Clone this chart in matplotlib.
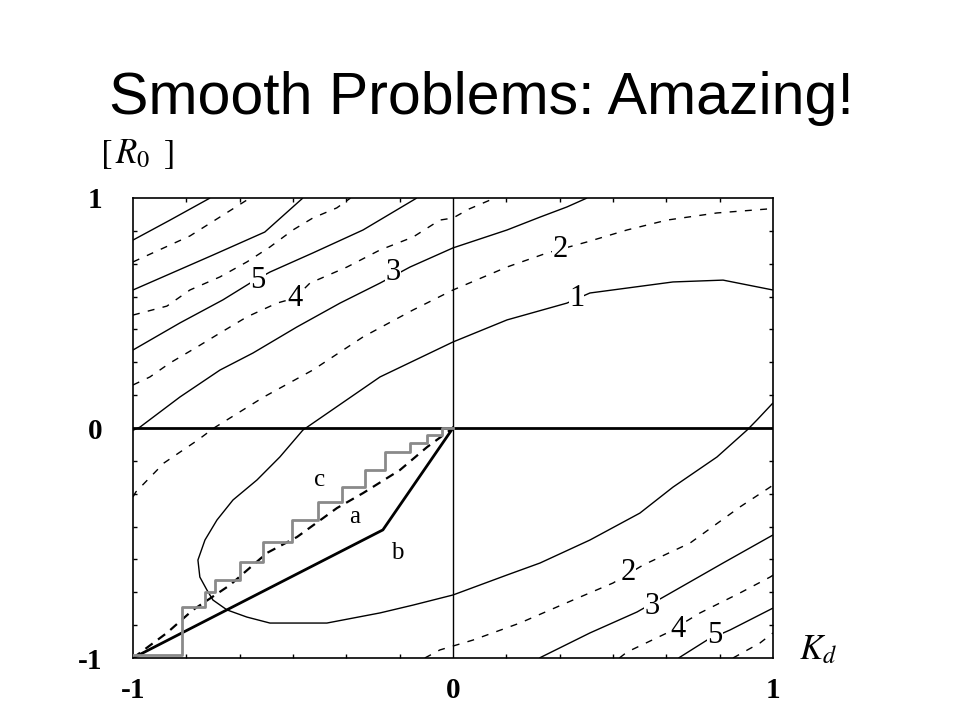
import numpy as np
import matplotlib
matplotlib.use("Agg")
import matplotlib.pyplot as plt
from matplotlib.ticker import MultipleLocator

# ---------------- data ----------------
title = "Smooth Problems: Amazing!"

# contour level lines (x = K_d, y = R_0)
lvl9_x = [-1.0, -0.884, -0.759]
lvl9_y = [0.817, 0.904, 1.0]

lvl8_x = [-1.0, -0.822, -0.634]
lvl8_y = [0.722, 0.835, 1.0]

lvl7_x = [-1.0, -0.75, -0.588, -0.469]
lvl7_y = [0.6, 0.752, 0.852, 1.0]

lvl6_x = [-1.0, -0.894, -0.822, -0.728, -0.644, -0.572, -0.5, -0.438, -0.363, -0.32]
lvl6_y = [0.491, 0.53, 0.6, 0.657, 0.722, 0.787, 0.861, 0.913, 0.957, 1.0]

lvl5_x = [-1.0, -0.853, -0.719, -0.634, -0.572, -0.438, -0.281, -0.113]
lvl5_y = [0.339, 0.457, 0.557, 0.63, 0.678, 0.761, 0.861, 1.0]

lvl4_x = [-1.0, -0.947, -0.884, -0.8, -0.728, -0.644, -0.55, -0.494, -0.447, -0.331,
          -0.228, -0.125, -0.041, 0.0, 0.05, 0.131]
lvl4_y = [0.187, 0.222, 0.283, 0.352, 0.413, 0.483, 0.543, 0.565, 0.63, 0.7,
          0.774, 0.83, 0.904, 0.913, 0.952, 1.0]

lvl3_x = [-1.0, -0.978, -0.853, -0.728, -0.625, -0.488, -0.353, -0.228, -0.134, 0.0,
          0.169, 0.272, 0.356, 0.419]
lvl3_y = [-0.01, 0.004, 0.135, 0.252, 0.326, 0.439, 0.543, 0.63, 0.7, 0.783,
          0.861, 0.917, 0.961, 1.0]

lvl2a_x = [-1.0, -0.991, -0.903, -0.797, -0.747, -0.591, -0.438, -0.281, -0.125, 0.0,
           0.022, 0.169, 0.294, 0.419, 0.544, 0.669, 0.825, 0.981, 1.0]
lvl2a_y = [-0.3, -0.278, -0.152, -0.052, 0.0, 0.135, 0.252, 0.396, 0.513, 0.6,
           0.613, 0.7, 0.761, 0.809, 0.861, 0.904, 0.935, 0.952, 0.952]

lvl2b_x = [-0.088, -0.041, 0.0625, 0.209, 0.375, 0.5, 0.594, 0.741, 0.897, 0.991, 1.0]
lvl2b_y = [-1.0, -0.965, -0.922, -0.848, -0.748, -0.674, -0.596, -0.5, -0.343, -0.257, -0.248]

lvl3b_x = [0.27, 0.428, 0.575, 0.669, 0.844, 1.0]
lvl3b_y = [-1.0, -0.891, -0.8, -0.726, -0.587, -0.465]

lvl4b_x = [0.52, 0.544, 0.669, 0.772, 0.897, 0.991, 1.0]
lvl4b_y = [-1.0, -0.974, -0.891, -0.804, -0.717, -0.648, -0.64]

lvl5b_x = [0.705, 0.794, 0.866, 1.0]
lvl5b_y = [-1.0, -0.922, -0.878, -0.783]

lvl6b_x = [0.875, 0.959, 1.0]
lvl6b_y = [-1.0, -0.935, -0.891]

lvl1_x = [1.0, 0.844, 0.6875, 0.428, 0.356, 0.169, 0.0, -0.228, -0.469, -0.541, -0.6125,
          -0.6875, -0.7375, -0.775, -0.797, -0.791, -0.769, -0.75, -0.706, -0.644, -0.572,
          -0.394, -0.228, -0.125, 0.0, 0.169, 0.272, 0.428, 0.584, 0.6875, 0.825, 0.919,
          0.95, 1.0]
lvl1_y = [0.6, 0.643, 0.635, 0.587, 0.543, 0.47, 0.374, 0.222, -0.009, -0.126, -0.226,
          -0.313, -0.4, -0.487, -0.574, -0.648, -0.704, -0.748, -0.791, -0.822, -0.848,
          -0.848, -0.804, -0.77, -0.726, -0.639, -0.587, -0.487, -0.37, -0.257, -0.126,
          -0.009, 0.035, 0.109]

# contour label texts and positions
clab_text = ["5", "4", "3", "2", "1", "2", "3", "4", "5"]
clab_x = [-0.609, -0.494, -0.1875, 0.334, 0.386, 0.547, 0.622, 0.703, 0.819]
clab_y = [0.643, 0.565, 0.674, 0.774, 0.564, -0.63, -0.778, -0.878, -0.9]

# search paths
path_a_x = [-1.0, -0.894, -0.8125, -0.697, -0.581, -0.4875, -0.3625, -0.281, -0.166, -0.081, 0.0]
path_a_y = [-1.0, -0.891, -0.791, -0.683, -0.543, -0.474, -0.348, -0.283, -0.183, -0.083, 0.0]

path_b_x = [-1.0, -0.219, 0.0]
path_b_y = [-1.0, -0.443, 0.0]

path_c_x = [-1.0, -0.847, -0.775, -0.744, -0.666, -0.594, -0.503, -0.422, -0.347, -0.275,
            -0.2125, -0.134, -0.081, -0.034, 0.0]
path_c_y = [-0.987, -0.777, -0.712, -0.661, -0.581, -0.494, -0.4, -0.32, -0.255, -0.183,
            -0.103, -0.067, -0.03, 0.0]

plab_text = ["c", "a", "b"]
plab_x = [-0.416, -0.306, -0.175]
plab_y = [-0.226, -0.387, -0.543]

ticks = [-1, 0, 1]
tick_labels = ["-1", "0", "1"]

# ---------------- figure ----------------
fig = plt.figure(figsize=(9.6, 7.2), dpi=100)
fig.patch.set_facecolor("white")
ax = fig.add_axes([0.1385, 0.0861, 0.6667, 0.6389])

solid = dict(color="black", lw=1.0, solid_capstyle="butt")
dashed = dict(color="black", lw=1.0, linestyle=(0, (5, 6)))

ax.plot(lvl9_x, lvl9_y, **solid)
ax.plot(lvl8_x, lvl8_y, **dashed)
ax.plot(lvl7_x, lvl7_y, **solid)
ax.plot(lvl6_x, lvl6_y, **dashed)
ax.plot(lvl5_x, lvl5_y, **solid)
ax.plot(lvl4_x, lvl4_y, **dashed)
ax.plot(lvl3_x, lvl3_y, **solid)
ax.plot(lvl2a_x, lvl2a_y, **dashed)
ax.plot(lvl2b_x, lvl2b_y, **dashed)
ax.plot(lvl3b_x, lvl3b_y, **solid)
ax.plot(lvl4b_x, lvl4b_y, **dashed)
ax.plot(lvl5b_x, lvl5b_y, **solid)
ax.plot(lvl6b_x, lvl6b_y, **dashed)
ax.plot(lvl1_x, lvl1_y, **solid)

# axes cross lines
ax.axhline(0, color="black", lw=2.0, zorder=3)
ax.axvline(0, color="black", lw=1.0, zorder=3)

# paths
ax.plot(path_a_x, path_a_y, color="black", lw=1.6, linestyle=(0, (4, 3)), zorder=4)
ax.plot(path_b_x, path_b_y, color="black", lw=2.0, zorder=4)
ax.step(path_c_x, path_c_y + [path_c_y[-1]], where="post", color="#8a8a8a", lw=2.0, zorder=5)

serif = ["Liberation Serif", "DejaVu Serif"]
for t, x, y in zip(clab_text, clab_x, clab_y):
    ax.text(x, y, t, fontsize=22, family=serif, ha="center", va="center", zorder=6,
            bbox=dict(facecolor="white", edgecolor="none", pad=0.3))
for t, x, y in zip(plab_text, plab_x, plab_y):
    ax.text(x, y, t, fontsize=18, family=serif, ha="center", va="center", zorder=6)

ax.set_xlim(-1, 1)
ax.set_ylim(-1, 1)
ax.set_xticks(ticks)
ax.set_xticklabels(tick_labels)
ax.set_yticks(ticks)
ax.set_yticklabels(tick_labels)
ax.tick_params(which="major", length=0, labelsize=21)
ax.tick_params(axis="y", which="major", pad=22)
ax.tick_params(axis="x", which="major", pad=14)
for lab in ax.get_xticklabels() + ax.get_yticklabels():
    lab.set_family(serif)
    lab.set_fontweight("bold")
ax.xaxis.set_minor_locator(MultipleLocator(1 / 6))
ax.yaxis.set_minor_locator(MultipleLocator(1 / 7))
ax.tick_params(which="minor", direction="in", length=3, width=1.0,
               top=True, right=True, bottom=True, left=True)
for s in ax.spines.values():
    s.set_linewidth(1.2)

# axis names
ax.text(-0.9875, 1.19, r"$[\,R_0\ \,]$", transform=ax.transData, fontsize=25,
        ha="center", va="center", math_fontfamily="stix", clip_on=False)
ax.text(1.14, -0.96, r"$K_d$", transform=ax.transData, fontsize=25,
        ha="center", va="center", math_fontfamily="stix", clip_on=False)

fig.text(0.5015, 1 - 114 / 720, title, fontsize=42.5, family=["Liberation Sans", "DejaVu Sans"],
         ha="center", va="baseline")

fig.savefig("out.png", dpi=100, facecolor="white")
